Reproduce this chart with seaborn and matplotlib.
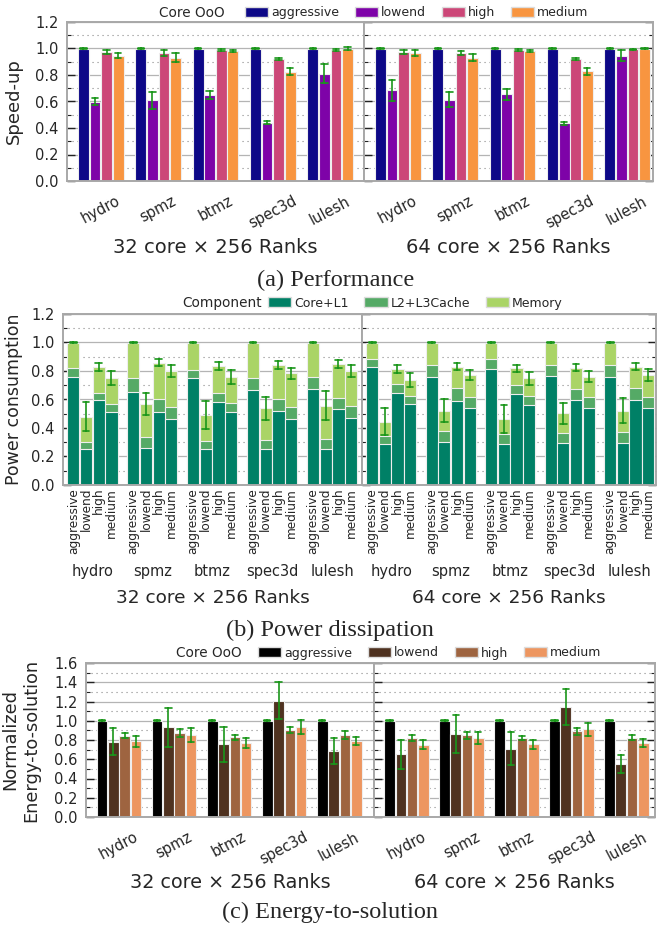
import matplotlib
matplotlib.use('Agg')
import matplotlib.pyplot as plt
import seaborn as sns
import pandas as pd
from matplotlib.patches import Patch
from matplotlib.ticker import MultipleLocator
from matplotlib import colormaps

sns.set_style('white')
plt.rcParams['font.family'] = ['DejaVu Sans']

benchmarks = ['hydro', 'spmz', 'btmz', 'spec3d', 'lulesh']
configs = ['aggressive', 'lowend', 'high', 'medium']
components = ['Core+L1', 'L2+L3Cache', 'Memory']

# (a) speed-up, rows = configs, cols = benchmarks
speed_32 = [[1.0, 1.0, 1.0, 1.0, 1.0],
            [0.60, 0.61, 0.65, 0.44, 0.81],
            [0.97, 0.965, 0.99, 0.92, 0.99],
            [0.945, 0.93, 0.98, 0.825, 1.0]]
speed_err_32 = [[0.003] * 5,
                [0.03, 0.065, 0.03, 0.012, 0.07],
                [0.015, 0.02, 0.008, 0.01, 0.008],
                [0.02, 0.035, 0.01, 0.025, 0.012]]
speed_64 = [[1.0, 1.0, 1.0, 1.0, 1.0],
            [0.685, 0.615, 0.655, 0.435, 0.945],
            [0.977, 0.965, 0.99, 0.92, 0.995],
            [0.965, 0.932, 0.982, 0.827, 1.0]]
speed_err_64 = [[0.003] * 5,
                [0.08, 0.06, 0.04, 0.01, 0.04],
                [0.015, 0.015, 0.008, 0.008, 0.005],
                [0.02, 0.03, 0.01, 0.025, 0.005]]

# (b) power, cumulative tops of the stacked segments
core_32 = [[0.76, 0.655, 0.75, 0.67, 0.675],
           [0.25, 0.257, 0.25, 0.25, 0.25],
           [0.597, 0.515, 0.58, 0.519, 0.531],
           [0.515, 0.463, 0.51, 0.463, 0.473]]
cache_top_32 = [[0.82, 0.75, 0.807, 0.753, 0.76],
                [0.304, 0.335, 0.311, 0.316, 0.325],
                [0.648, 0.604, 0.648, 0.604, 0.613],
                [0.568, 0.55, 0.573, 0.545, 0.557]]
total_32 = [[1.0, 1.0, 1.0, 1.0, 1.0],
            [0.48, 0.568, 0.491, 0.538, 0.557],
            [0.826, 0.858, 0.835, 0.842, 0.849],
            [0.749, 0.80, 0.76, 0.784, 0.80]]
power_err_32 = [[0.003] * 5,
                [0.1, 0.08, 0.1, 0.08, 0.1],
                [0.027, 0.026, 0.03, 0.028, 0.027],
                [0.05, 0.04, 0.05, 0.04, 0.045]]
core_64 = [[0.826, 0.76, 0.812, 0.765, 0.76],
           [0.285, 0.30, 0.285, 0.297, 0.292],
           [0.643, 0.592, 0.636, 0.596, 0.596],
           [0.566, 0.538, 0.561, 0.538, 0.538]]
cache_top_64 = [[0.884, 0.842, 0.882, 0.842, 0.842],
                [0.346, 0.381, 0.356, 0.367, 0.372],
                [0.706, 0.678, 0.702, 0.674, 0.678],
                [0.627, 0.62, 0.627, 0.615, 0.62]]
total_64 = [[1.0, 1.0, 1.0, 1.0, 1.0],
            [0.444, 0.522, 0.463, 0.503, 0.522],
            [0.814, 0.83, 0.819, 0.823, 0.83],
            [0.737, 0.772, 0.749, 0.76, 0.772]]
power_err_64 = [[0.003] * 5,
                [0.095, 0.08, 0.095, 0.072, 0.088],
                [0.025, 0.024, 0.026, 0.024, 0.026],
                [0.047, 0.038, 0.047, 0.038, 0.04]]

# (c) energy-to-solution
ets_32 = [[1.0, 1.0, 1.0, 1.0, 1.0],
          [0.78, 0.93, 0.755, 1.21, 0.69],
          [0.845, 0.875, 0.83, 0.905, 0.85],
          [0.785, 0.85, 0.77, 0.935, 0.79]]
ets_err_32 = [[0.003] * 5,
              [0.14, 0.2, 0.18, 0.195, 0.135],
              [0.025, 0.04, 0.025, 0.035, 0.04],
              [0.055, 0.07, 0.05, 0.07, 0.045]]
ets_64 = [[1.0, 1.0, 1.0, 1.0, 1.0],
          [0.65, 0.86, 0.71, 1.145, 0.55],
          [0.82, 0.848, 0.82, 0.89, 0.825],
          [0.752, 0.82, 0.755, 0.91, 0.77]]
ets_err_64 = [[0.003] * 5,
              [0.15, 0.195, 0.17, 0.185, 0.095],
              [0.03, 0.035, 0.025, 0.035, 0.025],
              [0.045, 0.06, 0.05, 0.065, 0.04]]

ooo_cols = [colormaps['plasma'](i / 4) for i in range(4)]
cu_cols = [colormaps['copper'](i / 4) for i in range(4)]
comp_cols = [colormaps['summer'](i / 3) for i in range(3)]
ERR = '#1a961a'
EDGE = '#eeeeee'
TXT = '#262626'

W, H = 658, 931
fig = plt.figure(figsize=(W / 100, H / 100), dpi=100)


def px_axes(l, r, t, b):
    return fig.add_axes([l / W, 1 - b / H, (r - l) / W, (b - t) / H])


def long_df(vals, errs=None):
    # two rows per bar (v-e, v+e) so seaborn draws the min-max interval
    rows = []
    for ci, cfg in enumerate(configs):
        for bi, b in enumerate(benchmarks):
            v = vals[ci][bi]
            e = errs[ci][bi] if errs else 0
            rows += [(b, cfg, v - e), (b, cfg, v + e)]
    return pd.DataFrame(rows, columns=['bench', 'cfg', 'val'])


def bars(ax, vals, errs, palette, width, gap):
    sns.barplot(data=long_df(vals, errs), x='bench', y='val', hue='cfg',
                order=benchmarks, hue_order=configs, palette=palette, saturation=1,
                errorbar=('pi', 100) if errs else None, capsize=0.45,
                err_kws={'color': ERR, 'linewidth': 1.2, 'zorder': 5},
                width=width, gap=gap, edgecolor=EDGE, linewidth=0.8,
                legend=False, ax=ax)


def style(ax, ymax, xlim, first, last):
    ax.set_ylim(0, ymax)
    ax.set_xlim(*xlim)
    ax.yaxis.set_major_locator(MultipleLocator(0.2))
    ax.yaxis.set_minor_locator(MultipleLocator(0.1))
    ax.grid(axis='y', which='major', color='#b4b4b4', lw=0.9)
    ax.grid(axis='y', which='minor', color='#888888', ls=(0, (1, 3.5)), lw=0.8)
    ax.set_axisbelow(True)
    for s in ax.spines.values():
        s.set_visible(True)
        s.set_color('#a8a8a8')
        s.set_linewidth(1.4)
    ax.tick_params(axis='y', which='both', direction='in', left=True,
                   right=last, color='#222222', labelcolor=TXT)
    ax.tick_params(axis='y', which='major', length=6, width=1, labelsize=10.5, pad=6)
    ax.tick_params(axis='y', which='minor', length=3, width=0.8)
    ax.tick_params(axis='x', which='both', length=0, labelcolor=TXT)
    ax.set_ylabel('')
    if not first:
        ax.tick_params(labelleft=False)


def legend_row(title, tx, lx, y, labels, colors):
    fig.text(tx / W, 1 - y / H, title, ha='left', va='center', fontsize=9.8,
             color=TXT)
    handles = [Patch(facecolor=c, edgecolor='#dddddd', label=l)
               for l, c in zip(labels, colors)]
    fig.legend(handles=handles, loc='center left', bbox_to_anchor=(lx / W, 1 - y / H),
               ncol=len(handles), frameon=False, fontsize=9, handlelength=1.85,
               handleheight=0.85, handletextpad=0.25, columnspacing=1.25,
               borderpad=0, borderaxespad=0, labelcolor=TXT)


xl = '32 core \u00d7 256 Ranks'
xr = '64 core \u00d7 256 Ranks'

# ---------- (a) Performance ----------
axes_a = [px_axes(67, 364, 22, 181), px_axes(364, 653, 22, 181)]
pal_a = dict(zip(configs, ooo_cols))
for i, (ax, v, e, lab, xlim) in enumerate(zip(axes_a, [speed_32, speed_64],
                                               [speed_err_32, speed_err_64], [xl, xr],
                                               [(-0.59, 4.59), (-0.59, 4.45)])):
    bars(ax, v, e, pal_a, 0.81, 0.06)
    style(ax, 1.2, xlim, i == 0, i == 1)
    ax.tick_params(axis='x', rotation=28, labelsize=10.5, pad=9)
    ax.set_xlabel(lab, fontsize=14, labelpad=5, color=TXT)
axes_a[0].set_ylabel('Speed-up', fontsize=13, color=TXT)
axes_a[0].yaxis.set_label_coords(-0.15, 0.5)
legend_row('Core OoO', 159, 245, 12.7, configs, ooo_cols)
fig.text(336 / W, 1 - 280 / H, '(a) Performance', family='Liberation Serif',
         fontsize=17.5, ha='center', va='center')

# ---------- (b) Power dissipation ----------
axes_b = [px_axes(63, 362, 314, 485), px_axes(362, 656, 314, 485)]
layers = [(total_32, total_64, True, comp_cols[2]),
          (cache_top_32, cache_top_64, False, comp_cols[1]),
          (core_32, core_64, False, comp_cols[0])]
for i, (ax, lab, errs, xlim) in enumerate(zip(axes_b, [xl, xr],
                                               [power_err_32, power_err_64],
                                               [(-0.49, 4.50), (-0.49, 4.45)])):
    for v32, v64, with_err, col in layers:
        bars(ax, v32 if i == 0 else v64, errs if with_err else None,
             {c: col for c in configs}, 0.85, 0.04)
    centers = sorted({round(p.get_x() + p.get_width() / 2, 6) for p in ax.patches})
    style(ax, 1.2, xlim, i == 0, i == 1)
    ax.set_xticks(centers, configs * len(benchmarks), minor=True)
    ax.tick_params(axis='x', which='minor', rotation=90, labelsize=8.7, pad=2)
    ax.tick_params(axis='x', which='major', labelsize=10.5, pad=57)
    ax.set_xlabel(lab, fontsize=13.3, labelpad=7, color=TXT)
axes_b[0].set_ylabel('Power consumption', fontsize=12.5, color=TXT)
axes_b[0].yaxis.set_label_coords(-0.135, 0.5)
legend_row('Component', 182, 268, 303, components, comp_cols)
fig.text(330 / W, 1 - 630 / H, '(b) Power dissipation', family='Liberation Serif',
         fontsize=17.5, ha='center', va='center')

# ---------- (c) Energy-to-solution ----------
axes_c = [px_axes(86, 374, 663, 817), px_axes(374, 655, 663, 817)]
pal_c = dict(zip(configs, cu_cols))
for i, (ax, v, e, lab, xlim) in enumerate(zip(axes_c, [ets_32, ets_64],
                                               [ets_err_32, ets_err_64], [xl, xr],
                                               [(-0.60, 4.63), (-0.59, 4.52)])):
    bars(ax, v, e, pal_c, 0.82, 0.06)
    style(ax, 1.6, xlim, i == 0, i == 1)
    ax.tick_params(axis='x', rotation=28, labelsize=10.5, pad=9)
    ax.set_xlabel(lab, fontsize=13.8, labelpad=4, color=TXT)
axes_c[0].set_ylabel('Normalized\nEnergy-to-solution', fontsize=12.8, color=TXT)
axes_c[0].yaxis.set_label_coords(-0.16, 0.5)
legend_row('Core OoO', 176, 258, 653, configs, cu_cols)
fig.text(330 / W, 1 - 912 / H, '(c) Energy-to-solution', family='Liberation Serif',
         fontsize=17.5, ha='center', va='center')

fig.savefig('out.png', dpi=100)
